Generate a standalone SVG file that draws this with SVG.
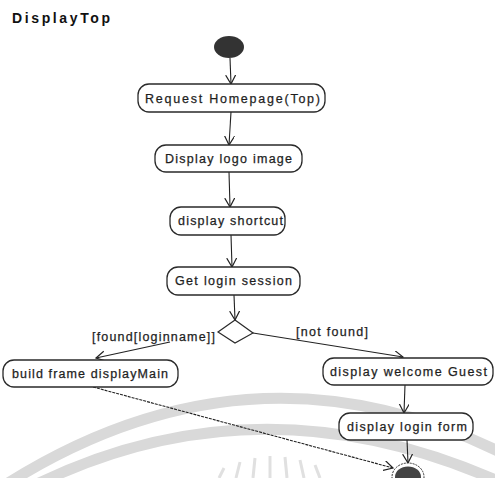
<svg xmlns="http://www.w3.org/2000/svg" width="495" height="478" viewBox="0 0 495 478">
<defs>
<style>
.wm{fill:none;stroke:#d9d9d9;stroke-width:11}
.ray{stroke:#e0e0e0;stroke-width:3}
.box{fill:#ffffff;stroke:#2a2a2a;stroke-width:1.3}
.lbl{font-family:"Liberation Sans",Arial,sans-serif;font-size:12.5px;fill:#1e1e1e;stroke:#1e1e1e;stroke-width:0.25;text-anchor:start}
.edge{fill:none;stroke:#222;stroke-width:1.1}
.title{font-family:"Liberation Sans",Arial,sans-serif;font-size:14px;font-weight:bold;fill:#111}
</style>
<marker id="arr" markerUnits="userSpaceOnUse" markerWidth="12" markerHeight="12" refX="9" refY="5" orient="auto">
<path d="M0,0 L9,5 L0,10" fill="none" stroke="#222" stroke-width="1.2"/>
</marker>
</defs>
<rect width="495" height="478" fill="#ffffff"/>
<g id="watermark">
<path class="wm" d="M5,485 Q250,330 500,452"/>
<path class="wm" d="M35,485 Q260,375 500,482"/>
<line class="ray" x1="224" y1="468" x2="219" y2="478"/>
<line class="ray" x1="240" y1="462" x2="236" y2="478"/>
<line class="ray" x1="255" y1="458" x2="253" y2="478"/>
<line class="ray" x1="270" y1="456" x2="270" y2="478"/>
<line class="ray" x1="285" y1="457" x2="287" y2="478"/>
<line class="ray" x1="300" y1="460" x2="304" y2="478"/>
<line class="ray" x1="315" y1="465" x2="320" y2="478"/>
</g>
<text class="title" x="12" y="23" textLength="98">DisplayTop</text>
<g id="connectors">
<line class="edge" x1="230" y1="58" x2="231" y2="84" marker-end="url(#arr)"/>
<line class="edge" x1="231" y1="112" x2="229" y2="145" marker-end="url(#arr)"/>
<line class="edge" x1="229" y1="172" x2="230" y2="207" marker-end="url(#arr)"/>
<line class="edge" x1="231" y1="235" x2="232" y2="267" marker-end="url(#arr)"/>
<line class="edge" x1="234" y1="295" x2="235" y2="320" marker-end="url(#arr)"/>
<line class="edge" x1="170" y1="342" x2="96" y2="358" marker-end="url(#arr)"/>
<line class="edge" x1="253" y1="333" x2="403" y2="357" marker-end="url(#arr)"/>
<line class="edge" x1="405" y1="385" x2="404" y2="413" marker-end="url(#arr)"/>
<line class="edge" x1="407" y1="440" x2="408" y2="463" marker-end="url(#arr)"/>
<line class="edge" x1="93" y1="387" x2="393" y2="468" marker-end="url(#arr)" stroke-dasharray="3 1"/>
<text class="lbl" x="92" y="341" textLength="123">[found[loginname]]</text>
<text class="lbl" x="296" y="336" textLength="72">[not found]</text>
</g>
<g id="start"><ellipse cx="229" cy="47" rx="15" ry="11" fill="#333"/></g>
<g id="request">
<rect class="box" x="138" y="84" width="187" height="28" rx="11"/>
<text class="lbl" x="145" y="103" textLength="175">Request Homepage(Top)</text>
</g>
<g id="logo">
<rect class="box" x="155" y="145" width="147" height="27" rx="11"/>
<text class="lbl" x="165" y="163" textLength="127">Display logo image</text>
</g>
<g id="shortcut">
<rect class="box" x="170" y="207" width="115" height="28" rx="11"/>
<text class="lbl" x="178" y="225" textLength="105">display shortcut</text>
</g>
<g id="session">
<rect class="box" x="167" y="267" width="133" height="28" rx="11"/>
<text class="lbl" x="175" y="285" textLength="117">Get login session</text>
</g>
<g id="decision">
<polygon points="235,320 253,333 235,343 218,332" fill="#fff" stroke="#2a2a2a" stroke-width="1.2"/>
</g>
<g id="buildframe">
<rect class="box" x="3" y="360" width="175" height="27" rx="11"/>
<text class="lbl" x="12" y="378" textLength="156">build frame displayMain</text>
</g>
<g id="welcome">
<rect class="box" x="323" y="358" width="170" height="27" rx="11"/>
<text class="lbl" x="330" y="376" textLength="157">display welcome Guest</text>
</g>
<g id="loginform">
<rect class="box" x="339" y="413" width="134" height="27" rx="11"/>
<text class="lbl" x="347" y="431" textLength="120">display login form</text>
</g>
<g id="end">
<ellipse cx="408" cy="477" rx="16" ry="14" fill="#fff" stroke="#333" stroke-width="1" stroke-dasharray="2 1"/>
<ellipse cx="408" cy="477" rx="13" ry="10.5" fill="#444"/>
</g>
</svg>
